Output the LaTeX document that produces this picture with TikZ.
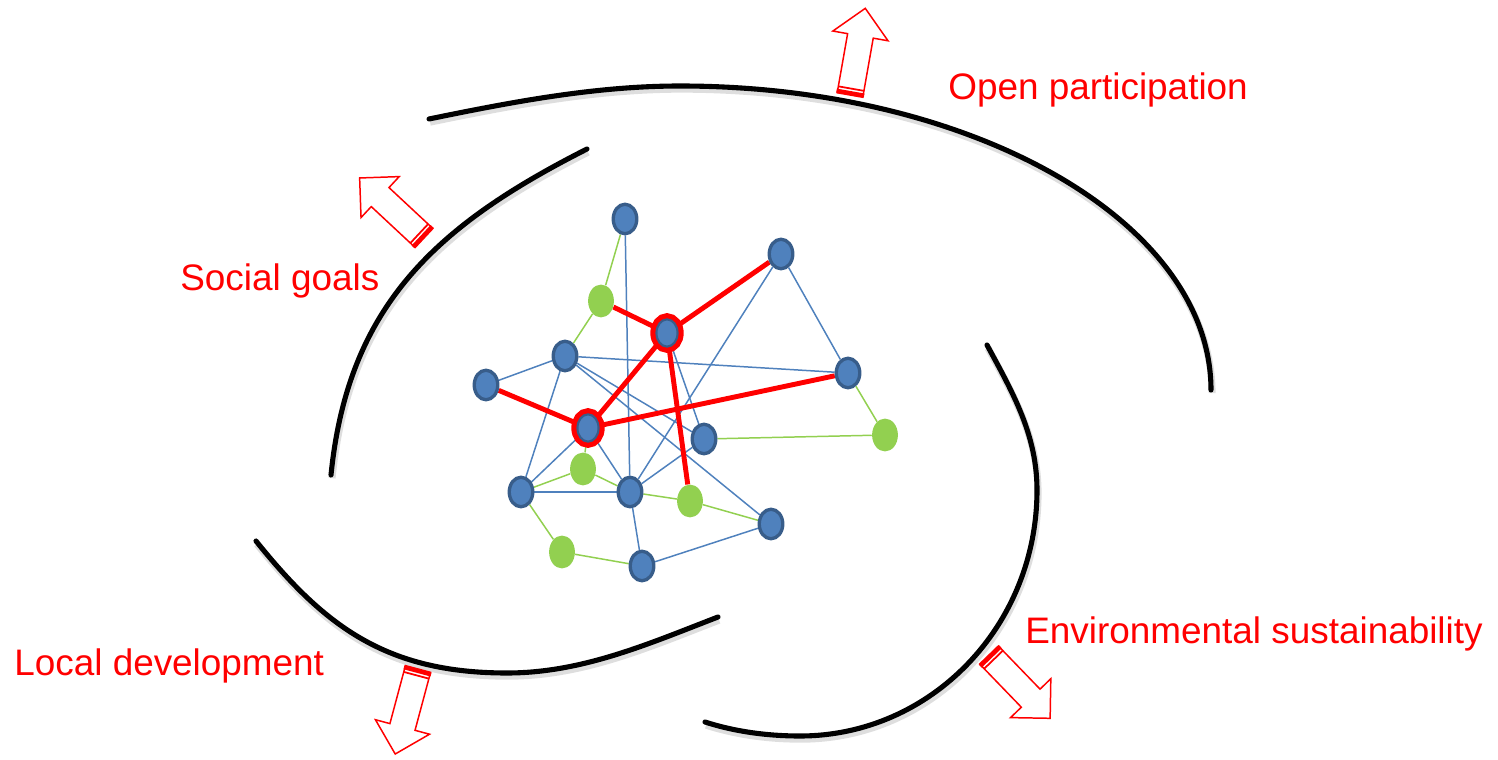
\documentclass[tikz,border=0pt]{standalone}
\usepackage{fontspec}
\setmainfont{Liberation Sans}
\usetikzlibrary{shapes.geometric,backgrounds}

\definecolor{nodeblue}{HTML}{4F81BD}
\definecolor{nodeedge}{HTML}{385D8A}
\definecolor{nodegreen}{HTML}{92D050}

\begin{document}
\begin{tikzpicture}[x=0.02cm, y=-0.02cm,
        member/.style={ellipse, draw=nodeedge, line width=1.9pt, fill=nodeblue, minimum width=13.4pt, minimum height=16.8pt, inner sep=0pt},
        guest/.style={ellipse, fill=nodegreen, minimum width=14.7pt, minimum height=18.7pt, inner sep=0pt},
        hub/.style={member, line width=1.2pt, minimum width=12pt, minimum height=15.5pt, preaction={draw=red, line width=7pt}},
        weak/.style={nodeblue, line width=0.85pt},
        link/.style={nodegreen, line width=0.85pt},
        strong/.style={red, line width=2.8pt},
        rim/.style={line width=2.9pt, line cap=round, preaction={draw=black!13, line width=4pt, transform canvas={xshift=0.6pt, yshift=-1.8pt}}},
        goal/.style={text=red, font=\fontsize{21}{25}\selectfont, anchor=base west, inner sep=0pt},
        outarrow/.pic={
            \draw[red, line width=0.85pt, fill=white] (-13,0) -- (-13,-60) -- (-28,-60) -- (0,-88) -- (28,-60) -- (13,-60) -- (13,0) -- cycle;
            \fill[red] (-14,0) rectangle (14,-4);
            \draw[red, line width=1pt] (-13,-6.5) -- (13,-6.5);
        }
    ]
        \useasboundingbox (0,0) rectangle (1498,760);

        % outer rims
        \draw[rim] (429,119) .. controls (512,102) and (595,86) .. (680,86)
            .. controls (973,86) and (1211,222) .. (1211,390);
        \draw[rim] (587,149) .. controls (437,225) and (348,305) .. (331,475);
        \draw[rim] (256,541) .. controls (325,627) and (387,673) .. (507,673)
            .. controls (582,673) and (648,644) .. (718,617);
        \draw[rim] (987,345) .. controls (1013,393) and (1037,435) .. (1037,490)
            .. controls (1037,626) and (931,736) .. (800,736)
            .. controls (765,736) and (733,731) .. (705,722);

        % arrows
        \pic[shift={(850,95)}, rotate=-10] {outarrow};
        \pic[shift={(424,238)}, rotate=47] {outarrow};
        \pic[shift={(418,669)}, rotate=165] {outarrow};
        \pic[shift={(989,655)}, rotate=-136] {outarrow};

        % labels
        \node[goal] (open) at (948,100) {Open participation};
        \node[goal] (social) at (180,291) {Social goals};
        \node[goal] (local) at (14,675) {Local development};
        \node[goal] (env) at (1025,643) {Environmental sustainability};

        % network
        \node[member] (n1) at (625,219) {};
        \node[member] (n2) at (781,254) {};
        \node[guest] (g1) at (601,301) {};
        \node[hub] (hubA) at (667,333) {};
        \node[member] (n3) at (565,356) {};
        \node[member] (n4) at (486,385) {};
        \node[member] (n5) at (848,373) {};
        \node[hub] (hubB) at (588,428) {};
        \node[member] (n6) at (704,439) {};
        \node[guest] (g2) at (885,435) {};
        \node[guest] (g3) at (583,469) {};
        \node[member] (n7) at (521,492) {};
        \node[member] (n8) at (630,492) {};
        \node[guest] (g4) at (690,501) {};
        \node[member] (n9) at (771,524) {};
        \node[guest] (g5) at (562,552) {};
        \node[member] (n10) at (642,566) {};

        \begin{scope}[on background layer]
            \draw[link] (n1) -- (g1);
            \draw[link] (g1) -- (n3);
            \draw[link] (n5) -- (g2);
            \draw[link] (n6) -- (g2);
            \draw[link] (n7) -- (g3);
            \draw[link] (g3) -- (n8);
            \draw[link] (hubB) -- (g3);
            \draw[link] (n8) -- (g4);
            \draw[link] (g4) -- (n9);
            \draw[link] (n7) -- (g5);
            \draw[link] (g5) -- (n10);

            \draw[weak] (n1) -- (n8);
            \draw[weak] (n3) -- (n4);
            \draw[weak] (n3) -- (n5);
            \draw[weak] (n3) -- (n6);
            \draw[weak] (n3) -- (n9);
            \draw[weak] (n3) -- (n7);
            \draw[weak] (n2) -- (n5);
            \draw[weak] (n2) -- (n8);
            \draw[weak] (hubA) -- (n6);
            \draw[weak] (hubB) -- (n7);
            \draw[weak] (hubB) -- (n8);
            \draw[weak] (n7) -- (n8);
            \draw[weak] (n6) -- (n8);
            \draw[weak] (n8) -- (n10);
            \draw[weak] (n10) -- (n9);

            \draw[strong] (g1) -- (hubA);
            \draw[strong] (hubA) -- (n2);
            \draw[strong] (hubA) -- (hubB);
            \draw[strong] (hubA) -- (g4);
            \draw[strong] (n4) -- (hubB);
            \draw[strong] (hubB) -- (n5);
        \end{scope}
    \end{tikzpicture}
\end{document}
